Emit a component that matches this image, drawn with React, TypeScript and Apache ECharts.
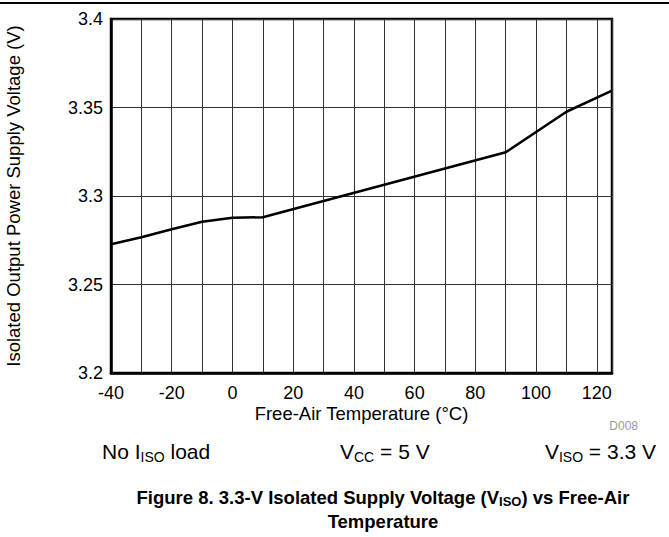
import React, { useEffect, useRef } from "react";
import * as echarts from "echarts";

const temperatures = [-40, -30, -20, -10, 0, 10, 90, 110, 125];
const voltages = [3.2727, 3.2767, 3.2812, 3.2855, 3.2877, 3.288, 3.3247, 3.3476, 3.3595];
const xTickStep = 10;
const xLabelStep = 20;
const yTicks = [3.2, 3.25, 3.3, 3.35, 3.4];

const FONT = "'Liberation Sans', Arial, sans-serif";

export default function App() {
  const ref = useRef<HTMLDivElement>(null);
  useEffect(() => {
    if (!ref.current) return;
    const chart = echarts.init(ref.current, null, { renderer: "svg" });
    const data = temperatures.map((t, i) => [t, voltages[i]]);
    const subStyle = { fontSize: 14, fontFamily: FONT, fill: "#000", padding: [11, 0, 0, 0] };
    const mainStyle = { fontSize: 21, fontFamily: FONT, fill: "#000" };
    const tMain = { fontSize: 18.5, fontWeight: "bold", fontFamily: FONT, fill: "#000" };
    const tSub = { fontSize: 13, fontWeight: "bold", fontFamily: FONT, fill: "#000", padding: [9, 0, 0, 0] };
    chart.setOption({
      animation: false,
      backgroundColor: "#fff",
      grid: {
        left: 111,
        top: 19,
        right: 57,
        bottom: 164,
        containLabel: false,
        outerBoundsMode: "none",
        show: true,
        borderColor: "#000",
        borderWidth: 2.5,
        backgroundColor: "transparent",
      },
      xAxis: {
        type: "value",
        min: -40,
        max: 125,
        interval: xTickStep,
        name: "Free-Air Temperature (°C)",
        nameLocation: "middle",
        nameGap: 31,
        nameMoveOverlap: false,
        nameTextStyle: { fontSize: 18.5, fontFamily: FONT, color: "#000" },
        axisLine: { show: true, onZero: false, lineStyle: { color: "#000", width: 2.5 } },
        axisTick: { show: false },
        axisLabel: {
          fontSize: 18,
          fontFamily: FONT,
          color: "#000",
          margin: 11,
          formatter: (v: number) => (v % xLabelStep === 0 ? String(v) : ""),
        },
        splitLine: { show: true, lineStyle: { color: "#333", width: 1 } },
      },
      yAxis: {
        type: "value",
        min: yTicks[0],
        max: yTicks[yTicks.length - 1],
        interval: 0.05,
        name: "Isolated Output Power Supply Voltage (V)",
        nameLocation: "middle",
        nameGap: 88,
        nameTextStyle: { fontSize: 18.5, fontFamily: FONT, color: "#000" },
        axisLine: { show: true, onZero: false, lineStyle: { color: "#000", width: 2.5 } },
        axisTick: { show: false },
        axisLabel: {
          fontSize: 18,
          fontFamily: FONT,
          color: "#000",
          margin: 8,
          formatter: (v: number) => String(parseFloat(v.toFixed(2))),
        },
        splitLine: { show: true, lineStyle: { color: "#333", width: 1 } },
      },
      series: [
        {
          type: "line",
          data,
          showSymbol: false,
          symbol: "none",
          lineStyle: { color: "#000", width: 2.5 },
        },
      ],
      graphic: [
        {
          type: "line",
          shape: { x1: 0, y1: 3, x2: 669, y2: 3 },
          style: { stroke: "#000", lineWidth: 2 },
        },
        {
          type: "text",
          x: 638,
          y: 426,
          style: { text: "D008", fontSize: 12, fontFamily: FONT, fill: "#999", align: "right", verticalAlign: "middle" },
        },
        {
          type: "text",
          x: 102,
          y: 451,
          style: {
            text: "{a|No I}{s|ISO}{a| load}",
            verticalAlign: "middle",
            rich: { a: mainStyle, s: subStyle },
          },
        },
        {
          type: "text",
          x: 340,
          y: 451,
          style: {
            text: "{a|V}{s|CC}{a| = 5 V}",
            verticalAlign: "middle",
            rich: { a: mainStyle, s: subStyle },
          },
        },
        {
          type: "text",
          x: 656,
          y: 451,
          style: {
            text: "{a|V}{s|ISO}{a| = 3.3 V}",
            align: "right",
            verticalAlign: "middle",
            rich: { a: mainStyle, s: subStyle },
          },
        },
        {
          type: "text",
          x: 383,
          y: 497,
          style: {
            text: "{a|Figure 8. 3.3-V Isolated Supply Voltage (V}{s|ISO}{a|) vs Free-Air}",
            align: "center",
            verticalAlign: "middle",
            rich: { a: tMain, s: tSub },
          },
        },
        {
          type: "text",
          x: 383,
          y: 521,
          style: {
            text: "Temperature",
            align: "center",
            verticalAlign: "middle",
            ...tMain,
          },
        },
      ],
    });
    return () => chart.dispose();
  }, []);
  return (
    <div
      ref={ref}
      style={{ position: "fixed", left: 0, top: 0, width: 669, height: 537 }}
    />
  );
}
